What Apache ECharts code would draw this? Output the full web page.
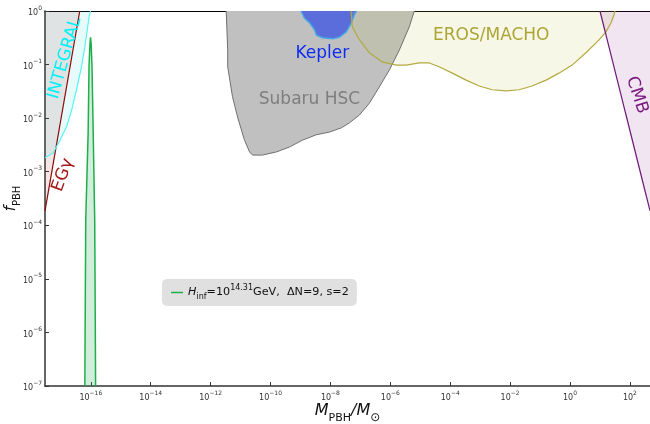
<!DOCTYPE html>
<html>
<head>
<meta charset="utf-8">
<script src="https://cdn.jsdelivr.net/npm/echarts@6/dist/echarts.min.js"></script>
<style>
html, body { margin: 0; padding: 0; background: #fff; }
#main { width: 650px; height: 424px; }
</style>
</head>
<body>
<div id="main"></div>
<script>
// all values are log10: [log10(M_PBH / M_sun), log10(f_PBH)]
const xTicks = [-16, -14, -12, -10, -8, -6, -4, -2, 0, 2];
const xRange = [-17.53, 2.67];
const yRange = [-7, 0];

const egammaBound = [[-17.53, -3.73], [-16.37, 0]];
const integralBound = [
    [-17.53, -2.74], [-17.26, -2.65], [-17.03, -2.41], [-16.81, -2.16], [-16.64, -1.85],
    [-16.48, -1.47], [-16.31, -1.04], [-16.2, -0.67], [-16.12, -0.36], [-16.06, -0.11], [-16.01, 0]
];
const subaruBound = [
    [-11.48, 0], [-11.43, -0.73], [-11.43, -1.04], [-11.27, -1.6], [-11.1, -1.98], [-10.87, -2.41],
    [-10.7, -2.63], [-10.6, -2.69], [-10.27, -2.69], [-9.8, -2.63], [-9.37, -2.54], [-8.93, -2.41],
    [-8.47, -2.31], [-8.03, -2.26], [-7.63, -2.18], [-7.37, -2.09], [-7.03, -1.94], [-6.7, -1.72],
    [-6.37, -1.42], [-6.03, -1.1], [-5.7, -0.73], [-5.37, -0.3], [-5.2, 0]
];
const keplerBound = [
    [-8.98, 0], [-8.87, -0.13], [-8.7, -0.22], [-8.53, -0.35], [-8.47, -0.45], [-8.27, -0.5],
    [-7.93, -0.52], [-7.7, -0.49], [-7.47, -0.39], [-7.3, -0.22], [-7.2, -0.07], [-7.13, 0]
];
const erosBound = [
    [-7.31, 0], [-7.27, -0.3], [-7.03, -0.54], [-6.7, -0.78], [-6.27, -0.95], [-5.8, -1.01],
    [-5.47, -1.01], [-5.03, -0.97], [-4.7, -0.97], [-4.37, -1.04], [-3.93, -1.16], [-3.47, -1.29],
    [-3.03, -1.4], [-2.6, -1.47], [-2.13, -1.49], [-1.7, -1.47], [-1.27, -1.4], [-0.8, -1.29],
    [-0.37, -1.16], [0.07, -1.01], [0.53, -0.78], [0.97, -0.54], [1.2, -0.39], [1.37, -0.22],
    [1.47, -0.07], [1.5, 0]
];
const cmbBound = [[1.0, 0], [2.67, -3.73]];
const peakCurve = [
    [-16.2, -7], [-16.17, -3.9], [-16.09, -2.28], [-16.06, -1.04], [-16.03, -0.62], [-16.01, -0.49],
    [-15.99, -0.6], [-15.96, -1.04], [-15.92, -2.28], [-15.87, -3.9], [-15.84, -7]
];
const peakName = 'peak';

//  region labels: text, anchor [log10 M, log10 f], rotation (deg), colour
const regionLabels = [
    {text: 'INTEGRAL', at: [-16.87, -0.88], rot: 74, color: '#00f2f6'},
    {text: 'EGγ', at: [-16.93, -3.06], rot: 70, color: '#a51c1c'},
    {text: 'Subaru HSC', at: [-8.7, -1.66], rot: 0, color: '#7e7e7e'},
    {text: 'Kepler', at: [-8.27, -0.8], rot: 0, color: '#0c2cf2'},
    {text: 'EROS/MACHO', at: [-2.63, -0.45], rot: 0, color: '#aca535'},
    {text: 'CMB', at: [2.23, -1.57], rot: -72, color: '#7a1a80'}
];

const font = 'DejaVu Sans';
const powLabel = v => '{b|10}{s|' + String(v).replace('-', '\u2212') + '}';
const tickRich = {
    b: {fontSize: 8, color: '#333', fontFamily: font, verticalAlign: 'bottom', lineHeight: 12},
    s: {fontSize: 6, color: '#333', fontFamily: font, verticalAlign: 'top', lineHeight: 12}
};

//  filled bound region, fills towards the top of the plot
function bound(data, lineColor, fill, width) {
    return {
        type: 'line',
        data: data,
        symbol: 'none',
        silent: true,
        lineStyle: {color: lineColor, width: width || 1},
        areaStyle: {color: fill, opacity: 1, origin: 'end'}
    };
}

const option = {
    animation: false,
    grid: {left: 45, right: 0, top: 11, bottom: 38, outerBoundsMode: 'none'},
    xAxis: [
        {
            type: 'value',
            min: xRange[0],
            max: xRange[1],
            splitLine: {show: false},
            axisLine: {onZero: false, lineStyle: {color: '#333', width: 1.5}},
            axisTick: {inside: true, length: 4, customValues: xTicks, lineStyle: {color: '#333'}},
            axisLabel: {customValues: xTicks, formatter: powLabel, rich: tickRich, margin: 4},
            name: '{m|M}{sub|PBH}{m|/M}{sub2|\u2299}',
            nameLocation: 'middle',
            nameGap: 17,
            nameMoveOverlap: false,
            nameTextStyle: {
                verticalAlign: 'top',
                rich: {
                    m: {fontSize: 16, fontStyle: 'italic', fontFamily: font, color: '#111', verticalAlign: 'top', lineHeight: 18},
                    sub: {fontSize: 11, fontFamily: font, color: '#111', verticalAlign: 'bottom', lineHeight: 18},
                    sub2: {fontSize: 12, fontFamily: font, color: '#111', verticalAlign: 'bottom', lineHeight: 21}
                }
            }
        },
        {
            type: 'value',
            position: 'top',
            min: xRange[0],
            max: xRange[1],
            splitLine: {show: false},
            axisLine: {onZero: false, lineStyle: {color: '#000', width: 1}},
            axisTick: {show: false},
            axisLabel: {show: false}
        }
    ],
    yAxis: {
        type: 'value',
        min: yRange[0],
        max: yRange[1],
        interval: 1,
        splitLine: {show: false},
        axisLine: {onZero: false, lineStyle: {color: '#333', width: 1.5}},
        axisTick: {inside: true, length: 4, lineStyle: {color: '#333'}},
        axisLabel: {formatter: powLabel, rich: tickRich, margin: 3},
        name: '{f|f}{sub|PBH}',
        nameLocation: 'middle',
        nameGap: 23,
        nameMoveOverlap: false,
        nameRotate: 90,
        nameTextStyle: {
            rich: {
                f: {fontSize: 15, fontStyle: 'italic', fontFamily: font, color: '#111', verticalAlign: 'top', lineHeight: 18},
                sub: {fontSize: 10, fontFamily: font, color: '#111', verticalAlign: 'bottom', lineHeight: 18}
            }
        }
    },
    legend: {
        left: 162,
        top: 279,
        backgroundColor: '#e0e0e0',
        borderRadius: 5,
        padding: [5, 8, 5, 9],
        itemWidth: 12,
        itemHeight: 1.5,
        itemGap: 4,
        selectedMode: false,
        data: [{name: peakName, icon: 'rect'}],
        formatter: () => '{h|H}{sub|inf}{n|=10}{sup|14.31}{n|GeV,  \u0394N=9, s=2}',
        textStyle: {
            rich: {
                h: {fontSize: 11.2, fontStyle: 'italic', fontFamily: font, color: '#111', lineHeight: 17},
                n: {fontSize: 11.2, fontFamily: font, color: '#111', lineHeight: 17},
                sub: {fontSize: 8, fontFamily: font, color: '#111', verticalAlign: 'bottom', lineHeight: 17},
                sup: {fontSize: 8, fontFamily: font, color: '#111', verticalAlign: 'top', lineHeight: 17}
            }
        }
    },
    series: [
        bound(subaruBound, '#707070', '#c0c0c0'),
        bound(keplerBound, '#45a8e6', '#5a6ddb', 1.5),
        bound(erosBound, '#b2aa3e', 'rgba(190,190,80,0.13)', 1.2),
        bound(cmbBound, '#6e1a78', 'rgba(140,40,150,0.12)', 1.2),
        bound(egammaBound, '#8b0a0a', 'rgba(160,20,20,0.11)', 1.2),
        bound(integralBound, '#55f4f4', 'rgba(0,215,215,0.09)', 1.2),
        {
            name: peakName,
            type: 'line',
            data: peakCurve,
            symbol: 'none',
            color: '#1fae4a',
            lineStyle: {color: '#1fae4a', width: 1.5},
            areaStyle: {color: 'rgba(40,170,90,0.3)', origin: 'start'}
        }
    ]
};

const chart = echarts.init(document.getElementById('main'));
chart.setOption(option);

chart.setOption({
    graphic: regionLabels.map(l => {
        const p = chart.convertToPixel({gridIndex: 0}, l.at);
        return {
            type: 'text',
            x: p[0],
            y: p[1],
            rotation: l.rot * Math.PI / 180,
            silent: true,
            z: 100,
            style: {
                text: l.text,
                fill: l.color,
                font: '17px "DejaVu Sans"',
                textAlign: 'center',
                textVerticalAlign: 'middle'
            }
        };
    })
});
</script>
</body>
</html>
